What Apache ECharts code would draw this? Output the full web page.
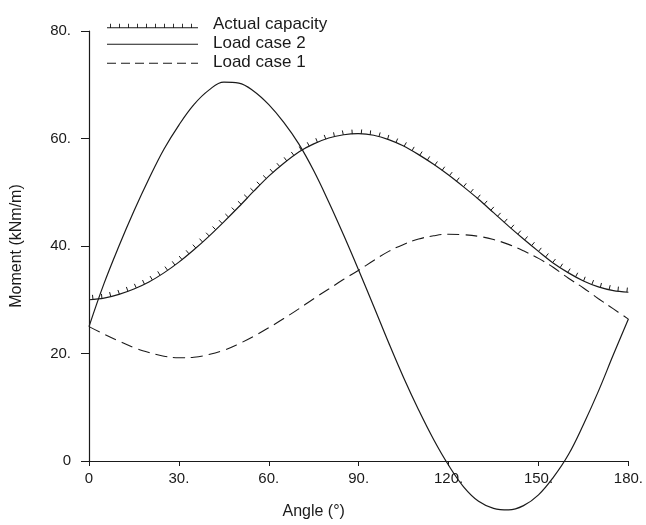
<!DOCTYPE html>
<html>
<head>
<meta charset="utf-8">
<script src="https://cdn.jsdelivr.net/npm/echarts@6/dist/echarts.min.js"></script>
<style>
html,body{margin:0;padding:0;background:#fff;}
#chart{width:646px;height:525px;}
</style>
</head>
<body>
<div id="chart"></div>
<script>
// ---- data ----
const angles = [0,5,10,15,20,25,30,35,40,45,50,55,60,65,70,75,80,85,90,95,100,105,110,115,120,125,130,135,140,145,150,155,160,165,170,175,180];
const actualCapacity = [30,30.3,31,32,33.3,35,37,39.3,41.8,44.5,47.3,50.2,53,55.4,57.5,59,60.1,60.7,60.9,60.6,59.8,58.6,57,55.2,53.2,51,48.7,46.2,43.7,41.3,39,36.8,35,33.5,32.4,31.7,31.4];
const loadCase2 = [25,33,40,46.5,52.5,58,62.5,66.3,69,70.5,70.3,68.8,66.3,63,59,54,48.2,42,35.5,28.8,22,15.5,9.5,4,-0.8,-4.8,-7.5,-8.8,-9.1,-8.3,-6.3,-3,1.2,6.8,13,19.8,26.4];
const loadCase1 = [25,23.6,22.3,21.1,20.2,19.5,19.2,19.3,19.8,20.6,21.8,23.2,24.8,26.5,28.3,30.2,32,33.8,35.5,37.3,39,40.3,41.3,41.9,42.2,42.1,41.8,41.2,40.3,39.1,37.7,36,34,32.2,30.2,28.3,26.4];
const xTicks = [0,30,60,90,120,150,180];
const yTicks = [0,20,40,60,80];
const seriesNames = ['Actual capacity','Load case 2','Load case 1'];

const INK = '#1a1a1a';
const FONT = 'Liberation Sans, Arial, Helvetica, sans-serif';

const pair = (vals) => angles.map((a, i) => [a, vals[i]]);

// legend icon paths (box 91 x 8)
function capIcon() {
  let p = 'M0,0 L0,0 M91,0 L91,0 M0,6.6 L91,6.6 L91,7.6 L0,7.6 Z';
  for (let x = 3; x < 90; x += 9) p += ' M' + x + ',3 L' + (x + 0.9) + ',3 L' + (x + 0.9) + ',7 L' + x + ',7 Z';
  return 'path://' + p;
}
function solidIcon() {
  return 'path://M0,0 L0,0 M91,8 L91,8 M0,4.2 L91,4.2 L91,5.3 L0,5.3 Z';
}
function dashIcon() {
  let p = 'M0,0 L0,0 M91,8 L91,8';
  for (let x = 0; x < 91; x += 14) {
    const e = Math.min(x + 9, 91);
    p += ' M' + x + ',4.2 L' + e + ',4.2 L' + e + ',5.3 L' + x + ',5.3 Z';
  }
  return 'path://' + p;
}

const chart = echarts.init(document.getElementById('chart'), null, {renderer: 'canvas'});

function renderCapacity(params, api) {
  if (params.dataIndex !== 0) return null;
  const pts = angles.map((a, i) => api.coord([a, actualCapacity[i]]));
  const children = [{
    type: 'polyline',
    shape: {points: pts, smooth: 0.3},
    style: {stroke: INK, lineWidth: 1.2, fill: null}
  }];
  const step = 9, len = 4.5;
  let carry = 4;
  for (let i = 0; i < pts.length - 1; i++) {
    const [x0, y0] = pts[i], [x1, y1] = pts[i + 1];
    const dx = x1 - x0, dy = y1 - y0;
    const L = Math.hypot(dx, dy);
    const ux = dx / L, uy = dy / L;
    const nx = uy, ny = -ux;
    let d = carry;
    while (d <= L) {
      const px = x0 + ux * d, py = y0 + uy * d;
      children.push({
        type: 'line',
        shape: {x1: px, y1: py, x2: px + nx * len, y2: py + ny * len},
        style: {stroke: INK, lineWidth: 1}
      });
      d += step;
    }
    carry = d - L;
  }
  return {type: 'group', children: children};
}

const labelFmt = (v) => (v === 0 ? '0' : v + '.');

chart.setOption({
  backgroundColor: '#ffffff',
  animation: false,
  textStyle: {fontFamily: FONT, color: INK},
  grid: {left: 89, right: 16, top: 31, bottom: 56},
  legend: {
    orient: 'vertical',
    left: 107,
    top: 16,
    itemWidth: 91,
    itemHeight: 8,
    itemGap: 2,
    padding: 0,
    selectedMode: false,
    textStyle: {fontFamily: FONT, fontSize: 17, color: INK, padding: [0, 0, 0, 10]},
    data: [
      {name: seriesNames[0], icon: capIcon()},
      {name: seriesNames[1], icon: solidIcon()},
      {name: seriesNames[2], icon: dashIcon()}
    ]
  },
  xAxis: {
    type: 'value',
    min: 0, max: 180, interval: 30,
    name: 'Angle (°)',
    nameLocation: 'middle',
    nameGap: 43,
    nameTextStyle: {fontFamily: FONT, fontSize: 16, color: INK, padding: [0, 90, 0, 0]},
    axisLine: {show: true, lineStyle: {color: INK, width: 1.2}},
    axisTick: {show: true, inside: false, length: 5, lineStyle: {color: INK, width: 1}},
    axisLabel: {formatter: labelFmt, fontFamily: FONT, fontSize: 15, color: INK, margin: 10},
    splitLine: {show: false}
  },
  yAxis: {
    type: 'value',
    min: 0, max: 80, interval: 20,
    name: 'Moment (kNm/m)',
    nameLocation: 'middle',
    nameGap: 64,
    nameTextStyle: {fontFamily: FONT, fontSize: 16, color: INK},
    axisLine: {show: true, lineStyle: {color: INK, width: 1.2}},
    axisTick: {show: true, inside: false, length: 8, lineStyle: {color: INK, width: 1}},
    axisLabel: {formatter: labelFmt, fontFamily: FONT, fontSize: 15, color: INK, margin: 18},
    splitLine: {show: false}
  },
  series: [
    {
      name: seriesNames[0],
      type: 'custom',
      renderItem: renderCapacity,
      itemStyle: {color: INK},
      data: pair(actualCapacity),
      clip: false,
      z: 3
    },
    {
      name: seriesNames[1],
      type: 'line',
      data: pair(loadCase2),
      showSymbol: false,
      symbol: 'none',
      smooth: 0.4,
      clip: false,
      itemStyle: {color: INK},
      lineStyle: {color: INK, width: 1.2, type: 'solid'}
    },
    {
      name: seriesNames[2],
      type: 'line',
      data: pair(loadCase1),
      showSymbol: false,
      symbol: 'none',
      smooth: 0.4,
      clip: false,
      itemStyle: {color: INK},
      lineStyle: {color: INK, width: 1.1, type: [12, 6]}
    }
  ]
});
</script>
</body>
</html>
